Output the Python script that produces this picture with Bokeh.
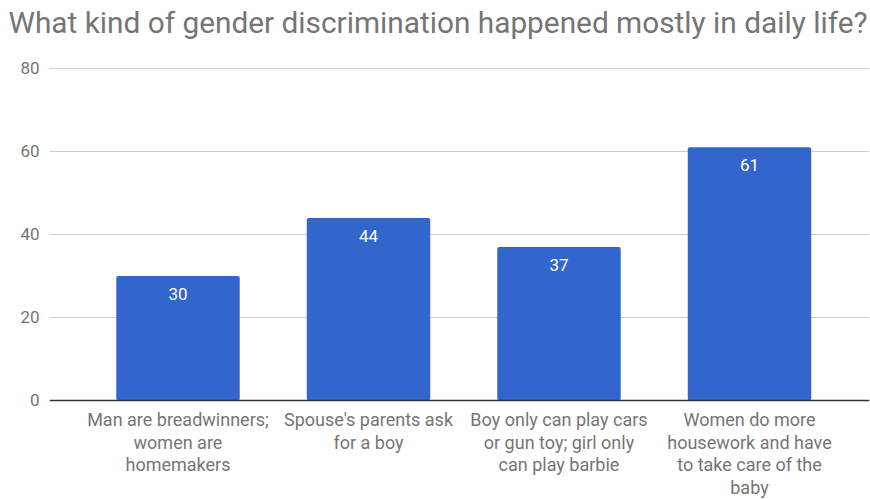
from bokeh.plotting import figure
from bokeh.models import Range1d, FixedTicker, ColumnDataSource, Span, Title
from bokeh.core.properties import value
from bokeh.embed import file_html
from bokeh.resources import INLINE

title_text = "What kind of gender discrimination happened mostly in daily life?"
categories = [
    "Man are breadwinners;\nwomen are\nhomemakers",
    "Spouse's parents ask\nfor a boy",
    "Boy only can play cars\nor gun toy; girl only\ncan play barbie",
    "Women do more\nhousework and have\nto take care of the\nbaby",
]
counts = [30, 44, 37, 61]
y_ticks = [0, 20, 40, 60, 80]

FONT = "Roboto"
GRAY = "#757575"

idx = list(range(len(categories)))
src = ColumnDataSource(dict(x=idx, top=counts, label=[str(v) for v in counts]))
cat_src = ColumnDataSource(dict(x=idx, y=[0] * len(idx), label=categories))

p = figure(width=870, height=499, output_backend="svg", toolbar_location=None,
           x_range=Range1d(-0.6745, 3.63), y_range=Range1d(-23.86, 80.24),
           min_border_left=49, min_border_right=1, min_border_top=67, min_border_bottom=0)

p.outline_line_color = None
p.background_fill_color = "white"
p.border_fill_color = "white"

# spacer between title and frame
p.add_layout(Title(text=" ", text_font_size="1px", standoff=25), "above")

p.title.text = title_text
p.title.text_font = FONT
p.title.text_font_size = "29.8px"
p.title.text_font_style = "normal"
p.title.text_color = GRAY
p.title.align = "left"
p.title.offset = -41
p.title.standoff = 0

p.vbar(x="x", top="top", bottom=0, width=0.648, source=src,
       fill_color="#3366cc", line_color=None, border_radius=2)

p.text(x="x", y="top", text="label", source=src, y_offset=18,
       text_align="center", text_baseline="middle",
       text_font=value(FONT), text_font_size="17px", text_color="white")

# category labels under the baseline
p.text(x="x", y="y", text="label", source=cat_src, y_offset=9,
       text_align="center", text_baseline="top", text_line_height=1.07,
       text_font=value(FONT), text_font_size="18px", text_color=GRAY)

p.xgrid.grid_line_color = None
p.ygrid.grid_line_color = "#cccccc"
p.ygrid.grid_line_width = 1
p.ygrid.ticker = FixedTicker(ticks=y_ticks)

p.add_layout(Span(location=0, dimension="width", line_color="#333333", line_width=1.5))

ya = p.yaxis[0]
ya.ticker = FixedTicker(ticks=y_ticks)
ya.axis_line_color = None
ya.major_tick_line_color = None
ya.minor_tick_line_color = None
ya.major_tick_out = 0
ya.major_tick_in = 0
ya.minor_tick_out = 0
ya.major_label_text_font = FONT
ya.major_label_text_font_size = "17px"
ya.major_label_text_color = GRAY
ya.major_label_standoff = 10

p.xaxis.visible = False

open("out.html", "w").write(file_html(p, INLINE))
